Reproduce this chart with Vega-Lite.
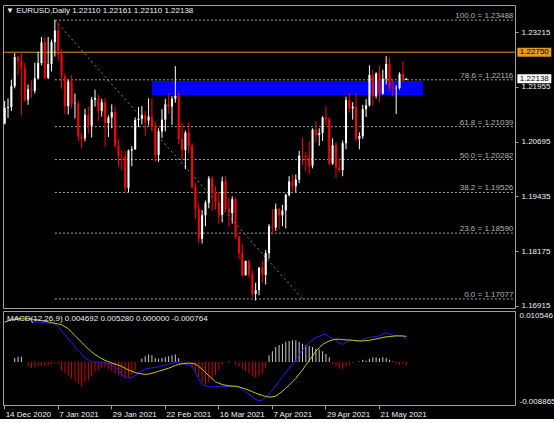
{
"$schema":"https://vega.github.io/schema/vega-lite/v6.json",
"background":"#000000",
"padding":{"left":2,"top":4,"right":0,"bottom":0},
"bounds":"flush",
"spacing":3,
"config":{
 "view":{"stroke":"#a0a0a0","strokeWidth":1},
 "font":"Liberation Sans",
 "axis":{"labelFont":"Liberation Sans","labelFontSize":8,"labelColor":"#f0f0f0","tickColor":"#a0a0a0","domainColor":"#a0a0a0","grid":false,"title":null},
 "title":{"font":"Liberation Sans","fontSize":8,"color":"#f0f0f0","fontWeight":"normal"}
},
"resolve":{"scale":{"x":"shared"}},
"datasets":{
"bars":[
{"d":"2020-12-14","o":1.2111,"h":1.2163,"l":1.2109,"c":1.2147,"macd":0.00823,"signal":0.00823,"hist":0},
{"d":"2020-12-15","o":1.2147,"h":1.2169,"l":1.2124,"c":1.2149,"macd":0.00844,"signal":0.00851,"hist":0.00007},
{"d":"2020-12-16","o":1.2149,"h":1.2212,"l":1.2140,"c":1.2197,"macd":0.00872,"signal":0.00872,"hist":0},
{"d":"2020-12-17","o":1.2197,"h":1.2273,"l":1.2192,"c":1.2264,"macd":0.00900,"signal":0.00886,"hist":0.00084},
{"d":"2020-12-18","o":1.2264,"h":1.2267,"l":1.2222,"c":1.2255,"macd":0.00914,"signal":0.00893,"hist":0.00112},
{"d":"2020-12-21","o":1.2255,"h":1.2272,"l":1.2130,"c":1.2240,"macd":0.00914,"signal":0.00893,"hist":0.00112},
{"d":"2020-12-22","o":1.2240,"h":1.2250,"l":1.2161,"c":1.2166,"macd":0.00914,"signal":0.00893,"hist":0},
{"d":"2020-12-23","o":1.2166,"h":1.2201,"l":1.2154,"c":1.2190,"macd":0.00907,"signal":0.00893,"hist":-0.00091},
{"d":"2020-12-24","o":1.2190,"h":1.2210,"l":1.2171,"c":1.2186,"macd":0.00858,"signal":0.00886,"hist":-0.00127},
{"d":"2020-12-28","o":1.2186,"h":1.2251,"l":1.2180,"c":1.2215,"macd":0.00830,"signal":0.00879,"hist":-0.00112},
{"d":"2020-12-29","o":1.2215,"h":1.2276,"l":1.2212,"c":1.2250,"macd":0.00823,"signal":0.00872,"hist":-0.00091},
{"d":"2020-12-30","o":1.2250,"h":1.2310,"l":1.2245,"c":1.2298,"macd":0.00815,"signal":0.00858,"hist":-0.00070},
{"d":"2020-12-31","o":1.2298,"h":1.2309,"l":1.2212,"c":1.2216,"macd":0.00808,"signal":0.00844,"hist":-0.00084},
{"d":"2021-01-04","o":1.2216,"h":1.2310,"l":1.2213,"c":1.2248,"macd":0.00801,"signal":0.00830,"hist":-0.00070},
{"d":"2021-01-05","o":1.2248,"h":1.2304,"l":1.2231,"c":1.2298,"macd":0.00801,"signal":0.00815,"hist":-0.00042},
{"d":"2021-01-06","o":1.2298,"h":1.2349,"l":1.2265,"c":1.2325,"macd":0.00787,"signal":0.00801,"hist":-0.00021},
{"d":"2021-01-07","o":1.2325,"h":1.2344,"l":1.2255,"c":1.2270,"macd":0.00731,"signal":0.00787,"hist":-0.00028},
{"d":"2021-01-08","o":1.2270,"h":1.2282,"l":1.2191,"c":1.2220,"macd":0.00647,"signal":0.00773,"hist":-0.00162},
{"d":"2021-01-11","o":1.2220,"h":1.2226,"l":1.2133,"c":1.2151,"macd":0.00562,"signal":0.00731,"hist":-0.00232},
{"d":"2021-01-12","o":1.2151,"h":1.2212,"l":1.2132,"c":1.2208,"macd":0.00478,"signal":0.00689,"hist":-0.00281},
{"d":"2021-01-13","o":1.2208,"h":1.2222,"l":1.2146,"c":1.2156,"macd":0.00401,"signal":0.00619,"hist":-0.00337},
{"d":"2021-01-14","o":1.2156,"h":1.2180,"l":1.2123,"c":1.2157,"macd":0.00323,"signal":0.00548,"hist":-0.00394},
{"d":"2021-01-15","o":1.2157,"h":1.2163,"l":1.2070,"c":1.2081,"macd":0.00239,"signal":0.00478,"hist":-0.00443},
{"d":"2021-01-18","o":1.2081,"h":1.2090,"l":1.2054,"c":1.2077,"macd":0.00169,"signal":0.00408,"hist":-0.00492},
{"d":"2021-01-19","o":1.2077,"h":1.2145,"l":1.2070,"c":1.2131,"macd":0.00084,"signal":0.00337,"hist":-0.00422},
{"d":"2021-01-20","o":1.2131,"h":1.2150,"l":1.2088,"c":1.2106,"macd":0.00042,"signal":0.00267,"hist":-0.00373},
{"d":"2021-01-21","o":1.2106,"h":1.2172,"l":1.2079,"c":1.2166,"macd":0.00007,"signal":0.00211,"hist":-0.00281},
{"d":"2021-01-22","o":1.2166,"h":1.2189,"l":1.2150,"c":1.2170,"macd":0,"signal":0.00155,"hist":-0.00197},
{"d":"2021-01-25","o":1.2170,"h":1.2177,"l":1.2117,"c":1.2140,"macd":0,"signal":0.00112,"hist":-0.00162},
{"d":"2021-01-26","o":1.2140,"h":1.2168,"l":1.2127,"c":1.2160,"macd":0,"signal":0.00070,"hist":-0.00127},
{"d":"2021-01-27","o":1.2160,"h":1.2170,"l":1.2058,"c":1.2112,"macd":-0.00014,"signal":0.00035,"hist":-0.00112},
{"d":"2021-01-28","o":1.2112,"h":1.2130,"l":1.2080,"c":1.2125,"macd":-0.00035,"signal":0.00007,"hist":-0.00141},
{"d":"2021-01-29","o":1.2125,"h":1.2155,"l":1.2100,"c":1.2137,"macd":-0.00056,"signal":-0.00021,"hist":-0.00183},
{"d":"2021-02-01","o":1.2137,"h":1.2150,"l":1.2055,"c":1.2060,"macd":-0.00098,"signal":-0.00042,"hist":-0.00232},
{"d":"2021-02-02","o":1.2060,"h":1.2075,"l":1.2011,"c":1.2036,"macd":-0.00162,"signal":-0.00063,"hist":-0.00267},
{"d":"2021-02-03","o":1.2036,"h":1.2050,"l":1.2003,"c":1.2035,"macd":-0.00246,"signal":-0.00091,"hist":-0.00302},
{"d":"2021-02-04","o":1.2035,"h":1.2048,"l":1.1952,"c":1.1963,"macd":-0.00302,"signal":-0.00127,"hist":-0.00337},
{"d":"2021-02-05","o":1.1963,"h":1.2051,"l":1.1953,"c":1.2049,"macd":-0.00323,"signal":-0.00162,"hist":-0.00323},
{"d":"2021-02-08","o":1.2049,"h":1.2059,"l":1.2013,"c":1.2052,"macd":-0.00323,"signal":-0.00190,"hist":-0.00267},
{"d":"2021-02-09","o":1.2052,"h":1.2125,"l":1.2050,"c":1.2119,"macd":-0.00281,"signal":-0.00218,"hist":-0.00162},
{"d":"2021-02-10","o":1.2119,"h":1.2149,"l":1.2103,"c":1.2122,"macd":-0.00232,"signal":-0.00232,"hist":0},
{"d":"2021-02-11","o":1.2122,"h":1.2151,"l":1.2109,"c":1.2131,"macd":-0.00183,"signal":-0.00246,"hist":0.00070},
{"d":"2021-02-12","o":1.2131,"h":1.2140,"l":1.2082,"c":1.2118,"macd":-0.00141,"signal":-0.00253,"hist":0.00120},
{"d":"2021-02-15","o":1.2118,"h":1.2169,"l":1.2108,"c":1.2127,"macd":-0.00127,"signal":-0.00246,"hist":0.00155},
{"d":"2021-02-16","o":1.2127,"h":1.2169,"l":1.2093,"c":1.2104,"macd":-0.00120,"signal":-0.00232,"hist":0.00141},
{"d":"2021-02-17","o":1.2104,"h":1.2114,"l":1.2023,"c":1.2039,"macd":-0.00112,"signal":-0.00211,"hist":0.00084},
{"d":"2021-02-18","o":1.2039,"h":1.2100,"l":1.2023,"c":1.2093,"macd":-0.00098,"signal":-0.00190,"hist":0.00070},
{"d":"2021-02-19","o":1.2093,"h":1.2144,"l":1.2078,"c":1.2120,"macd":-0.00077,"signal":-0.00169,"hist":0.00084},
{"d":"2021-02-22","o":1.2120,"h":1.2168,"l":1.2093,"c":1.2155,"macd":-0.00063,"signal":-0.00148,"hist":0.00098},
{"d":"2021-02-23","o":1.2155,"h":1.2181,"l":1.2134,"c":1.2150,"macd":-0.00042,"signal":-0.00127,"hist":0.00120},
{"d":"2021-02-24","o":1.2150,"h":1.2174,"l":1.2108,"c":1.2168,"macd":-0.00021,"signal":-0.00098,"hist":0.00141},
{"d":"2021-02-25","o":1.2168,"h":1.2243,"l":1.2159,"c":1.2175,"macd":-0.00007,"signal":-0.00070,"hist":0.00155},
{"d":"2021-02-26","o":1.2175,"h":1.2184,"l":1.2064,"c":1.2075,"macd":-0.00021,"signal":-0.00049,"hist":0.00084},
{"d":"2021-03-01","o":1.2075,"h":1.2113,"l":1.2026,"c":1.2050,"macd":-0.00035,"signal":-0.00035,"hist":0.00014},
{"d":"2021-03-02","o":1.2050,"h":1.2095,"l":1.2006,"c":1.2090,"macd":-0.00042,"signal":-0.00028,"hist":-0.00021},
{"d":"2021-03-03","o":1.2090,"h":1.2113,"l":1.2043,"c":1.2060,"macd":-0.00056,"signal":-0.00021,"hist":-0.00021},
{"d":"2021-03-04","o":1.2060,"h":1.2066,"l":1.1962,"c":1.1965,"macd":-0.00091,"signal":-0.00028,"hist":-0.00127},
{"d":"2021-03-05","o":1.1965,"h":1.1975,"l":1.1892,"c":1.1915,"macd":-0.00197,"signal":-0.00042,"hist":-0.00197},
{"d":"2021-03-08","o":1.1915,"h":1.1927,"l":1.1836,"c":1.1846,"macd":-0.00351,"signal":-0.00091,"hist":-0.00302},
{"d":"2021-03-09","o":1.1846,"h":1.1912,"l":1.1835,"c":1.1900,"macd":-0.00464,"signal":-0.00148,"hist":-0.00408},
{"d":"2021-03-10","o":1.1900,"h":1.1934,"l":1.1875,"c":1.1929,"macd":-0.00492,"signal":-0.00218,"hist":-0.00464},
{"d":"2021-03-11","o":1.1929,"h":1.1990,"l":1.1916,"c":1.1985,"macd":-0.00506,"signal":-0.00281,"hist":-0.00422},
{"d":"2021-03-12","o":1.1985,"h":1.1990,"l":1.1910,"c":1.1952,"macd":-0.00513,"signal":-0.00344,"hist":-0.00351},
{"d":"2021-03-15","o":1.1952,"h":1.1967,"l":1.1914,"c":1.1930,"macd":-0.00506,"signal":-0.00408,"hist":-0.00267},
{"d":"2021-03-16","o":1.1930,"h":1.1952,"l":1.1881,"c":1.1901,"macd":-0.00499,"signal":-0.00436,"hist":-0.00162},
{"d":"2021-03-17","o":1.1901,"h":1.1989,"l":1.1884,"c":1.1978,"macd":-0.00499,"signal":-0.00464,"hist":-0.00056},
{"d":"2021-03-18","o":1.1978,"h":1.1990,"l":1.1910,"c":1.1915,"macd":-0.00506,"signal":-0.00478,"hist":0},
{"d":"2021-03-19","o":1.1915,"h":1.1940,"l":1.1873,"c":1.1905,"macd":-0.00499,"signal":-0.00492,"hist":0.00014},
{"d":"2021-03-22","o":1.1905,"h":1.1944,"l":1.1881,"c":1.1937,"macd":-0.00485,"signal":-0.00499,"hist":0},
{"d":"2021-03-23","o":1.1937,"h":1.1941,"l":1.1845,"c":1.1851,"macd":-0.00492,"signal":-0.00499,"hist":-0.00056},
{"d":"2021-03-24","o":1.1851,"h":1.1854,"l":1.1800,"c":1.1813,"macd":-0.00520,"signal":-0.00513,"hist":-0.00091},
{"d":"2021-03-25","o":1.1813,"h":1.1835,"l":1.1760,"c":1.1762,"macd":-0.00562,"signal":-0.00534,"hist":-0.00141},
{"d":"2021-03-26","o":1.1762,"h":1.1796,"l":1.1762,"c":1.1795,"macd":-0.00619,"signal":-0.00555,"hist":-0.00183},
{"d":"2021-03-29","o":1.1795,"h":1.1798,"l":1.1756,"c":1.1764,"macd":-0.00661,"signal":-0.00583,"hist":-0.00232},
{"d":"2021-03-30","o":1.1764,"h":1.1774,"l":1.1712,"c":1.1719,"macd":-0.00717,"signal":-0.00612,"hist":-0.00281},
{"d":"2021-03-31","o":1.1719,"h":1.1745,"l":1.1704,"c":1.1728,"macd":-0.00773,"signal":-0.00640,"hist":-0.00323},
{"d":"2021-04-01","o":1.1728,"h":1.1780,"l":1.1716,"c":1.1780,"macd":-0.00794,"signal":-0.00668,"hist":-0.00302},
{"d":"2021-04-02","o":1.1780,"h":1.1795,"l":1.1745,"c":1.1763,"macd":-0.00780,"signal":-0.00689,"hist":-0.00232},
{"d":"2021-04-05","o":1.1763,"h":1.1820,"l":1.1741,"c":1.1813,"macd":-0.00731,"signal":-0.00710,"hist":-0.00127},
{"d":"2021-04-06","o":1.1813,"h":1.1880,"l":1.1800,"c":1.1875,"macd":-0.00661,"signal":-0.00724,"hist":0.00141},
{"d":"2021-04-07","o":1.1875,"h":1.1914,"l":1.1856,"c":1.1872,"macd":-0.00576,"signal":-0.00717,"hist":0.00225},
{"d":"2021-04-08","o":1.1872,"h":1.1927,"l":1.1864,"c":1.1915,"macd":-0.00492,"signal":-0.00703,"hist":0.00309},
{"d":"2021-04-09","o":1.1915,"h":1.1917,"l":1.1867,"c":1.1900,"macd":-0.00394,"signal":-0.00654,"hist":0.00352},
{"d":"2021-04-12","o":1.1900,"h":1.1924,"l":1.1875,"c":1.1911,"macd":-0.00302,"signal":-0.00605,"hist":0.00380},
{"d":"2021-04-13","o":1.1911,"h":1.1950,"l":1.1870,"c":1.1947,"macd":-0.00218,"signal":-0.00541,"hist":0.00422},
{"d":"2021-04-14","o":1.1947,"h":1.1990,"l":1.1943,"c":1.1978,"macd":-0.00127,"signal":-0.00478,"hist":0.00436},
{"d":"2021-04-15","o":1.1978,"h":1.1994,"l":1.1955,"c":1.1967,"macd":-0.00042,"signal":-0.00408,"hist":0.00450},
{"d":"2021-04-16","o":1.1967,"h":1.1994,"l":1.1953,"c":1.1982,"macd":0.00049,"signal":-0.00337,"hist":0.00450},
{"d":"2021-04-19","o":1.1982,"h":1.2048,"l":1.1974,"c":1.2037,"macd":0.00155,"signal":-0.00246,"hist":0.00422},
{"d":"2021-04-20","o":1.2037,"h":1.2079,"l":1.2015,"c":1.2036,"macd":0.00239,"signal":-0.00162,"hist":0.00380},
{"d":"2021-04-21","o":1.2036,"h":1.2046,"l":1.2002,"c":1.2033,"macd":0.00330,"signal":-0.00063,"hist":0.00352},
{"d":"2021-04-22","o":1.2033,"h":1.2071,"l":1.1995,"c":1.2014,"macd":0.00401,"signal":0.00028,"hist":0.00330},
{"d":"2021-04-23","o":1.2014,"h":1.2100,"l":1.2008,"c":1.2097,"macd":0.00457,"signal":0.00127,"hist":0.00309},
{"d":"2021-04-26","o":1.2097,"h":1.2117,"l":1.2068,"c":1.2085,"macd":0.00506,"signal":0.00225,"hist":0.00281},
{"d":"2021-04-27","o":1.2085,"h":1.2100,"l":1.2060,"c":1.2089,"macd":0.00534,"signal":0.00295,"hist":0.00260},
{"d":"2021-04-28","o":1.2089,"h":1.2128,"l":1.2071,"c":1.2125,"macd":0.00562,"signal":0.00366,"hist":0.00225},
{"d":"2021-04-29","o":1.2125,"h":1.2150,"l":1.2107,"c":1.2121,"macd":0.00576,"signal":0.00401,"hist":0.00169},
{"d":"2021-04-30","o":1.2121,"h":1.2125,"l":1.2016,"c":1.2019,"macd":0.00520,"signal":0.00436,"hist":0.00098},
{"d":"2021-05-03","o":1.2019,"h":1.2077,"l":1.2016,"c":1.2061,"macd":0.00492,"signal":0.00457,"hist":-0.00042},
{"d":"2021-05-04","o":1.2061,"h":1.2068,"l":1.1986,"c":1.2010,"macd":0.00450,"signal":0.00471,"hist":-0.00091},
{"d":"2021-05-05","o":1.2010,"h":1.2030,"l":1.1999,"c":1.2004,"macd":0.00394,"signal":0.00471,"hist":-0.00127},
{"d":"2021-05-06","o":1.2004,"h":1.2072,"l":1.1990,"c":1.2066,"macd":0.00366,"signal":0.00464,"hist":-0.00141},
{"d":"2021-05-07","o":1.2066,"h":1.2173,"l":1.2052,"c":1.2165,"macd":0.00408,"signal":0.00457,"hist":-0.00091},
{"d":"2021-05-10","o":1.2165,"h":1.2181,"l":1.2136,"c":1.2146,"macd":0.00436,"signal":0.00457,"hist":-0.00056},
{"d":"2021-05-11","o":1.2146,"h":1.2160,"l":1.2120,"c":1.2150,"macd":0.00450,"signal":0.00450,"hist":-0.00021},
{"d":"2021-05-12","o":1.2150,"h":1.2180,"l":1.2070,"c":1.2076,"macd":0.00436,"signal":0.00443,"hist":0},
{"d":"2021-05-13","o":1.2076,"h":1.2091,"l":1.2052,"c":1.2082,"macd":0.00436,"signal":0.00436,"hist":0.00014},
{"d":"2021-05-14","o":1.2082,"h":1.2154,"l":1.2076,"c":1.2144,"macd":0.00457,"signal":0.00436,"hist":0.00049},
{"d":"2021-05-17","o":1.2144,"h":1.2167,"l":1.2126,"c":1.2153,"macd":0.00492,"signal":0.00443,"hist":0.00028},
{"d":"2021-05-18","o":1.2153,"h":1.2245,"l":1.2150,"c":1.2223,"macd":0.00506,"signal":0.00450,"hist":0.00070},
{"d":"2021-05-19","o":1.2223,"h":1.2234,"l":1.2152,"c":1.2174,"macd":0.00520,"signal":0.00464,"hist":0.00098},
{"d":"2021-05-20","o":1.2174,"h":1.2229,"l":1.2169,"c":1.2226,"macd":0.00527,"signal":0.00478,"hist":0.00098},
{"d":"2021-05-21","o":1.2226,"h":1.2244,"l":1.2161,"c":1.2180,"macd":0.00541,"signal":0.00492,"hist":0.00084},
{"d":"2021-05-24","o":1.2180,"h":1.2235,"l":1.2177,"c":1.2214,"macd":0.00576,"signal":0.00506,"hist":0.00098},
{"d":"2021-05-25","o":1.2214,"h":1.2266,"l":1.2201,"c":1.2248,"macd":0.00605,"signal":0.00520,"hist":0.00084},
{"d":"2021-05-26","o":1.2248,"h":1.2263,"l":1.2186,"c":1.2193,"macd":0.00576,"signal":0.00527,"hist":0.00049},
{"d":"2021-05-27","o":1.2193,"h":1.2214,"l":1.2173,"c":1.2192,"macd":0.00555,"signal":0.00534,"hist":0.00014},
{"d":"2021-05-28","o":1.2192,"h":1.2199,"l":1.2133,"c":1.2193,"macd":0.00541,"signal":0.00541,"hist":-0.00042},
{"d":"2021-05-31","o":1.2193,"h":1.2229,"l":1.2189,"c":1.2225,"macd":0.00534,"signal":0.00541,"hist":-0.00056},
{"d":"2021-06-01","o":1.2225,"h":1.2254,"l":1.2207,"c":1.2213,"macd":0.00520,"signal":0.00541,"hist":-0.00042},
{"d":"2021-06-02","o":1.22110,"h":1.22161,"l":1.22110,"c":1.22138,"macd":0.004692,"signal":0.005280,"hist":-0.000764}
],
"fib":[
{"from":"2021-01-06","to":"2021-07-16","p":1.23488,"label":"100.0 = 1.23488"},
{"from":"2021-01-06","to":"2021-07-16","p":1.22116,"label":"78.6 = 1.22116"},
{"from":"2021-01-06","to":"2021-07-16","p":1.21039,"label":"61.8 = 1.21039"},
{"from":"2021-01-06","to":"2021-07-16","p":1.20282,"label":"50.0 = 1.20282"},
{"from":"2021-01-06","to":"2021-07-16","p":1.19526,"label":"38.2 = 1.19526"},
{"from":"2021-01-06","to":"2021-07-16","p":1.18590,"label":"23.6 = 1.18590"},
{"from":"2021-01-06","to":"2021-07-16","p":1.17077,"label":"0.0 = 1.17077"}
],
"trend":[{"from":"2021-01-06","to":"2021-04-20","p1":1.23488,"p2":1.17077}],
"zone":[{"from":"2021-02-16","to":"2021-06-09","top":1.22088,"bottom":1.21766}],
"tags":[{"name":"hline","p":1.2275,"t":"1.22750"},{"name":"bid","p":1.22138,"t":"1.22138"}]
},
"vconcat":[
{
 "width":512,"height":303,
 "title":{"text":"▼ EURUSD,Daily  1.22110 1.22161 1.22110 1.22138","anchor":"start","frame":"group","orient":"top","offset":0,"baseline":"middle","dx":3,"dy":13.5},
 "layer":[
  {"data":{"name":"zone"},"mark":{"type":"rect","color":"#0000ff"},
   "encoding":{"x":{"field":"from","type":"ordinal"},"x2":{"field":"to"},"y":{"field":"top","type":"quantitative"},"y2":{"field":"bottom"}}},
  {"data":{"name":"fib"},"mark":{"type":"rule","color":"#a8a8a8","strokeDash":[2,2],"strokeWidth":1},
   "encoding":{"x":{"field":"from","type":"ordinal"},"x2":{"field":"to"},"y":{"field":"p","type":"quantitative"}}},
  {"data":{"name":"trend"},"mark":{"type":"rule","color":"#8a8a8a","strokeDash":[2,3],"strokeWidth":1},
   "encoding":{"x":{"field":"from","type":"ordinal"},"x2":{"field":"to"},"y":{"field":"p1","type":"quantitative"},"y2":{"field":"p2"}}},
  {"data":{"name":"tags"},"transform":[{"filter":"datum.name == 'hline'"}],"mark":{"type":"rule","color":"#d99a2b","strokeWidth":1},
   "encoding":{"y":{"field":"p","type":"quantitative"}}},
  {"data":{"name":"bars"},"mark":{"type":"rule","strokeWidth":1},
   "encoding":{
    "x":{"field":"d","type":"ordinal","axis":null,"scale":{"type":"band","paddingInner":0,"paddingOuter":0,"domain":["2020-12-14","2020-12-15","2020-12-16","2020-12-17","2020-12-18","2020-12-21","2020-12-22","2020-12-23","2020-12-24","2020-12-28","2020-12-29","2020-12-30","2020-12-31","2021-01-04","2021-01-05","2021-01-06","2021-01-07","2021-01-08","2021-01-11","2021-01-12","2021-01-13","2021-01-14","2021-01-15","2021-01-18","2021-01-19","2021-01-20","2021-01-21","2021-01-22","2021-01-25","2021-01-26","2021-01-27","2021-01-28","2021-01-29","2021-02-01","2021-02-02","2021-02-03","2021-02-04","2021-02-05","2021-02-08","2021-02-09","2021-02-10","2021-02-11","2021-02-12","2021-02-15","2021-02-16","2021-02-17","2021-02-18","2021-02-19","2021-02-22","2021-02-23","2021-02-24","2021-02-25","2021-02-26","2021-03-01","2021-03-02","2021-03-03","2021-03-04","2021-03-05","2021-03-08","2021-03-09","2021-03-10","2021-03-11","2021-03-12","2021-03-15","2021-03-16","2021-03-17","2021-03-18","2021-03-19","2021-03-22","2021-03-23","2021-03-24","2021-03-25","2021-03-26","2021-03-29","2021-03-30","2021-03-31","2021-04-01","2021-04-02","2021-04-05","2021-04-06","2021-04-07","2021-04-08","2021-04-09","2021-04-12","2021-04-13","2021-04-14","2021-04-15","2021-04-16","2021-04-19","2021-04-20","2021-04-21","2021-04-22","2021-04-23","2021-04-26","2021-04-27","2021-04-28","2021-04-29","2021-04-30","2021-05-03","2021-05-04","2021-05-05","2021-05-06","2021-05-07","2021-05-10","2021-05-11","2021-05-12","2021-05-13","2021-05-14","2021-05-17","2021-05-18","2021-05-19","2021-05-20","2021-05-21","2021-05-24","2021-05-25","2021-05-26","2021-05-27","2021-05-28","2021-05-31","2021-06-01","2021-06-02","2021-06-03","2021-06-04","2021-06-07","2021-06-08","2021-06-09","2021-06-10","2021-06-11","2021-06-14","2021-06-15","2021-06-16","2021-06-17","2021-06-18","2021-06-21","2021-06-22","2021-06-23","2021-06-24","2021-06-25","2021-06-28","2021-06-29","2021-06-30","2021-07-01","2021-07-02","2021-07-05","2021-07-06","2021-07-07","2021-07-08","2021-07-09","2021-07-12","2021-07-13","2021-07-14","2021-07-15","2021-07-16"]}},
    "y":{"field":"l","type":"quantitative","scale":{"domain":[1.16869,1.23836],"nice":false,"zero":false},
      "axis":{"orient":"right","values":[1.23215,1.22585,1.21955,1.21325,1.20695,1.20065,1.19435,1.18805,1.18175,1.17545,1.16915],"format":".5f","tickSize":3,"labelPadding":3,"domain":false}},
    "y2":{"field":"h"},
    "color":{"condition":{"test":"datum.c >= datum.o","value":"#ffffff"},"value":"#ff0000"}}},
  {"data":{"name":"bars"},"mark":{"type":"bar","width":{"band":0.62},"minBandSize":1},
   "encoding":{"x":{"field":"d","type":"ordinal"},"y":{"field":"o","type":"quantitative"},"y2":{"field":"c"},
    "color":{"condition":{"test":"datum.c >= datum.o","value":"#ffffff"},"value":"#ff0000"}}},
  {"data":{"name":"fib"},"mark":{"type":"text","color":"#b4b4b4","fontSize":8,"align":"right","baseline":"alphabetic","dy":-2},
   "encoding":{"x":{"field":"to","type":"ordinal"},"y":{"field":"p","type":"quantitative"},"text":{"field":"label"}}},
  {"data":{"name":"tags"},"mark":{"type":"point","shape":"M-1,-0.265H1V0.265H-1Z","size":1156,"filled":true,"opacity":1,"xOffset":21},
   "encoding":{"x":{"datum":"2021-07-16","type":"ordinal"},"y":{"field":"p","type":"quantitative"},
    "color":{"condition":{"test":"datum.name == 'hline'","value":"#e39a22"},"value":"#ffffff"}}},
  {"data":{"name":"tags"},"mark":{"type":"text","color":"#000000","fontSize":8,"align":"center","baseline":"middle","dx":21},
   "encoding":{"x":{"datum":"2021-07-16","type":"ordinal"},"y":{"field":"p","type":"quantitative"},"text":{"field":"t"}}}
 ]
},
{
 "width":512,"height":94,
 "title":{"text":"MACD(12,26,9) 0.004692 0.005280 0.000000 -0.000764","anchor":"start","frame":"group","orient":"top","offset":0,"baseline":"middle","dx":4,"dy":16},
 "data":{"name":"bars"},
 "layer":[
  {"mark":{"type":"bar","width":1},
   "encoding":{
    "x":{"field":"d","type":"ordinal","axis":{"orient":"bottom","values":["2020-12-14","2021-01-07","2021-01-29","2021-02-22","2021-03-16","2021-04-07","2021-04-29","2021-05-21"],"labelExpr":"utcFormat(toDate(datum.value), '%-d %b %Y')","labelAlign":"left","labelAngle":0,"labelBaseline":"top","tickSize":4,"labelPadding":1,"labelOffset":1,"domain":false,"bandPosition":0.5,"labelOverlap":false}},
    "y":{"field":"hist","type":"quantitative","scale":{"domain":[-0.008865,0.010546],"nice":false,"zero":false},
      "axis":{"orient":"right","values":[0.010546,-0.008865],"labelExpr":"replace(format(datum.value,'.6f'),'\u2212','-')","labelFlush":true,"ticks":false,"labelPadding":4,"domain":false}},
    "y2":{"datum":0},
    "color":{"condition":{"test":"datum.hist >= 0","value":"#c8c8c8"},"value":"#d00000"}}},
  {"mark":{"type":"line","color":"#2020ff","strokeWidth":1},
   "encoding":{"x":{"field":"d","type":"ordinal"},"y":{"field":"macd","type":"quantitative"}}},
  {"mark":{"type":"line","color":"#cccc00","strokeWidth":1},
   "encoding":{"x":{"field":"d","type":"ordinal"},"y":{"field":"signal","type":"quantitative"}}}
 ]
}
]
}
